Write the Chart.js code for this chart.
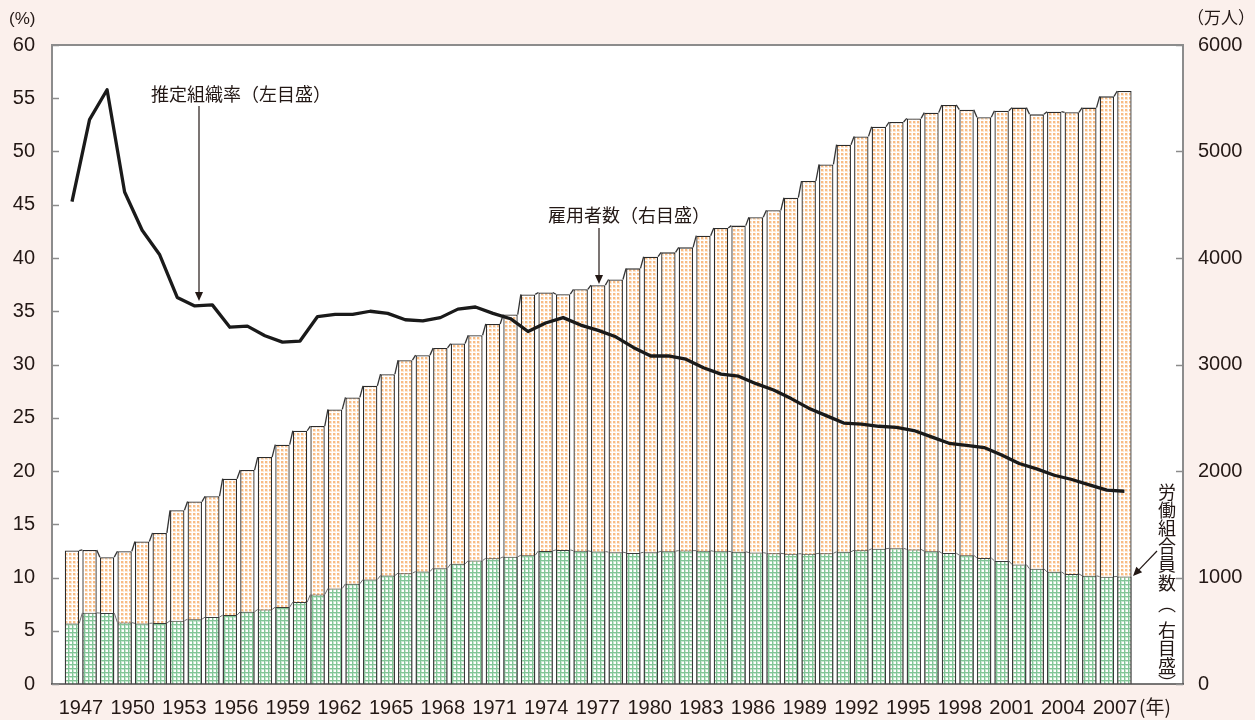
<!DOCTYPE html>
<html><head><meta charset="utf-8">
<script src="https://cdn.jsdelivr.net/npm/chart.js@4.4.1/dist/chart.umd.min.js"></script>
<style>
html,body{margin:0;padding:0;background:#FBF0EC;}
#wrap{position:relative;width:1255px;height:720px;}
canvas{display:block;}
</style>
</head><body>
<div id="wrap"><canvas id="c" width="1255" height="720"></canvas></div>
<script>
// ---- data ----
const years = [1947,1948,1949,1950,1951,1952,1953,1954,1955,1956,1957,1958,1959,1960,1961,1962,1963,1964,1965,1966,1967,1968,1969,1970,1971,1972,1973,1974,1975,1976,1977,1978,1979,1980,1981,1982,1983,1984,1985,1986,1987,1988,1989,1990,1991,1992,1993,1994,1995,1996,1997,1998,1999,2000,2001,2002,2003,2004,2005,2006,2007];
const employees = [1253,1259,1191,1247,1338,1419,1631,1713,1763,1928,2009,2131,2247,2378,2422,2578,2691,2800,2909,3041,3088,3156,3197,3275,3381,3469,3658,3676,3660,3706,3745,3798,3903,4012,4053,4100,4210,4282,4304,4382,4448,4566,4723,4879,5064,5142,5233,5277,5311,5365,5437,5393,5321,5383,5412,5349,5374,5368,5412,5518,5568];
const unionMembers = [569,668,666,577,569,572,594,609,628,647,678,700,722,769,840,897,941,981,1019,1041,1056,1088,1128,1159,1181,1194,1209,1250,1259,1251,1244,1238,1231,1237,1247,1253,1252,1246,1242,1234,1227,1223,1223,1227,1242,1256,1270,1274,1264,1247,1229,1209,1184,1156,1122,1081,1053,1033,1016,1008,1010];
const orgRate = [45.3,53.0,55.8,46.2,42.6,40.3,36.3,35.5,35.6,33.5,33.6,32.7,32.1,32.2,34.5,34.7,34.7,35.0,34.8,34.2,34.1,34.4,35.2,35.4,34.8,34.3,33.1,33.9,34.4,33.7,33.2,32.6,31.6,30.8,30.8,30.5,29.7,29.1,28.9,28.2,27.6,26.8,25.9,25.2,24.5,24.4,24.2,24.1,23.8,23.2,22.6,22.4,22.2,21.5,20.7,20.2,19.6,19.2,18.7,18.2,18.1];
const xTickYears = [1947,1950,1953,1956,1959,1962,1965,1968,1971,1974,1977,1980,1983,1986,1989,1992,1995,1998,2001,2004,2007];
const leftAxisTitle = '(%)';
const rightAxisTitle = '（万人）';
const xAxisUnit = '(年)';
const labelRate = '推定組織率（左目盛）';
const labelEmployees = '雇用者数（右目盛）';
const labelUnion = ['労','働','組','合','員','数','︵','右','目','盛','︶'];

// ---- patterns ----
function makePattern(draw, w, h){
  const c = document.createElement('canvas'); c.width = w; c.height = h;
  const g = c.getContext('2d'); draw(g, w, h);
  return document.getElementById('c').getContext('2d').createPattern(c, 'repeat');
}
const orangeDots = makePattern((g)=>{
  g.fillStyle = '#ffffff'; g.fillRect(0,0,4,4);
  g.fillStyle = '#FDE6D0'; g.fillRect(0,0,4,4); g.fillStyle = '#ffffff'; g.fillRect(0,0,4,1); g.fillRect(0,0,1,4);
  g.fillStyle = '#F8BC84'; g.fillRect(1,1,2,2);
},4,4);
const greenGrid = makePattern((g)=>{
  g.fillStyle = '#ffffff'; g.fillRect(0,0,4,4);
  g.fillStyle = '#C6E6CF'; g.fillRect(0,1,4,1); g.fillRect(1,0,1,4);
  g.fillStyle = '#82C597'; g.fillRect(0,0,4,1); g.fillRect(0,0,1,4);
},4,4);

const NUM_FONT = "'Liberation Sans', Arial, sans-serif";
const CJK_FONT = "'Noto Sans CJK JP', sans-serif";
const TXT = '#231815';

const pts = arr => years.map((y,i)=>({x:y, y:arr[i]}));

function arrow(ctx, x1, y1, x2, y2){
  const a = Math.atan2(y2-y1, x2-x1), L = 9, W = 4;
  ctx.beginPath(); ctx.moveTo(x1,y1);
  ctx.lineTo(x2 - Math.cos(a)*L*0.8, y2 - Math.sin(a)*L*0.8); ctx.stroke();
  ctx.beginPath(); ctx.moveTo(x2,y2);
  ctx.lineTo(x2 - Math.cos(a)*L + Math.sin(a)*W, y2 - Math.sin(a)*L - Math.cos(a)*W);
  ctx.lineTo(x2 - Math.cos(a)*L - Math.sin(a)*W, y2 - Math.sin(a)*L + Math.cos(a)*W);
  ctx.closePath(); ctx.fill();
}

const framePlugin = {
  id: 'frame',
  beforeDatasetsDraw(chart){
    const {ctx, chartArea:a} = chart;
    ctx.save(); ctx.fillStyle = '#ffffff';
    ctx.fillRect(a.left, a.top, a.right-a.left, a.bottom-a.top);
    ctx.restore();
  },
  afterDatasetDraw(chart, args){
    const meta = args.meta;
    if (meta.type !== 'bar') return;
    const ctx = chart.ctx;
    ctx.save();
    ctx.strokeStyle = meta.index === 2 ? '#333333' : '#707070';
    ctx.lineWidth = meta.index === 2 ? 1.3 : 1;
    const els = meta.data;
    for (let i = 0; i < els.length - 1; i++){
      const p = els[i].getProps(['x','y','width'], true);
      const q = els[i+1].getProps(['x','y','width'], true);
      ctx.beginPath();
      ctx.moveTo(p.x + p.width/2, p.y);
      ctx.lineTo(q.x - q.width/2, q.y);
      ctx.stroke();
    }
    ctx.restore();
  },
  afterDraw(chart){
    const {ctx, chartArea:a, scales} = chart;
    ctx.save();
    // frame
    ctx.strokeStyle = '#8c8c8c'; ctx.lineWidth = 2;
    ctx.beginPath();
    ctx.moveTo(a.left, a.bottom); ctx.lineTo(a.left, a.top); ctx.lineTo(a.right, a.top); ctx.lineTo(a.right, a.bottom);
    ctx.stroke();
    ctx.strokeStyle = '#4a4a4a'; ctx.lineWidth = 1.5;
    ctx.beginPath(); ctx.moveTo(a.left-1, a.bottom); ctx.lineTo(a.right+1, a.bottom); ctx.stroke();
    // inward tick marks
    ctx.strokeStyle = '#8c8c8c'; ctx.lineWidth = 1.5;
    scales.yL.ticks.forEach(t=>{
      const y = Math.round(scales.yL.getPixelForValue(t.value)) + 0.5;
      ctx.beginPath(); ctx.moveTo(a.left, y); ctx.lineTo(a.left+7, y); ctx.stroke();
    });
    scales.yR.ticks.forEach(t=>{
      const y = Math.round(scales.yR.getPixelForValue(t.value)) + 0.5;
      ctx.beginPath(); ctx.moveTo(a.right-7, y); ctx.lineTo(a.right, y); ctx.stroke();
    });
    // axis titles
    ctx.fillStyle = TXT; ctx.textBaseline = 'middle';
    ctx.font = '17px ' + NUM_FONT; ctx.textAlign = 'left';
    ctx.fillText(leftAxisTitle, 9, 19);
    ctx.font = '17px ' + CJK_FONT;
    ctx.fillText(rightAxisTitle, 1187, 18);
    ctx.font = '19px ' + CJK_FONT;
    ctx.fillText(xAxisUnit, 1139, 707);
    // annotations
    ctx.font = '18px ' + CJK_FONT;
    ctx.fillText(labelRate, 151, 94);
    ctx.fillText(labelEmployees, 548, 215);
    ctx.textAlign = 'center';
    const ys = [492,510,528,546,564,583,604,630,648,666,683];
    labelUnion.forEach((ch,i)=> ctx.fillText(ch, 1167, ys[i]));
    ctx.strokeStyle = '#231815'; ctx.fillStyle = '#231815'; ctx.lineWidth = 1.2;
    arrow(ctx, 199, 106, 199, 301);
    arrow(ctx, 599, 228, 599, 284);
    arrow(ctx, 1157, 551, 1133, 576);
    ctx.restore();
  }
};

new Chart(document.getElementById('c'), {
  type: 'bar',
  data: {
    datasets: [
      { type:'line', label:'推定組織率', data: pts(orgRate), yAxisID:'yL', xAxisID:'x',
        borderColor:'#1a1a1a', borderWidth:3.3, pointRadius:0, tension:0, order:0, borderJoinStyle:'round' },
      { label:'労働組合員数', data: pts(unionMembers), yAxisID:'yR', xAxisID:'x',
        backgroundColor: greenGrid, borderColor:'#3a3a3a', borderWidth:{left:1.3,right:1.3,top:1,bottom:0},
        borderSkipped:false, grouped:false, categoryPercentage:1, barPercentage:0.82, order:1 },
      { label:'雇用者数', data: pts(employees), yAxisID:'yR', xAxisID:'x',
        backgroundColor: orangeDots, borderColor:'#2b2b2b', borderWidth:{left:1.3,right:1.3,top:1.3,bottom:0},
        borderSkipped:false, grouped:false, categoryPercentage:1, barPercentage:0.82, order:2 }
    ]
  },
  options: {
    responsive:false, animation:false, devicePixelRatio:1,
    layout:{ padding:{ top:45, left:0, right:0, bottom:0 } },
    plugins:{ legend:{display:false}, tooltip:{enabled:false} },
    scales:{
      x:{ type:'linear', position:'bottom', min:1945.86, max:2010.34, offset:false, display:false },
      xLabels:{ type:'linear', position:'bottom', min:1945.32, max:2010.95, offset:false,
        grid:{display:false, drawTicks:false}, border:{display:false},
        afterBuildTicks: s => { s.ticks = xTickYears.map(v=>({value:v})); },
        afterFit: s => { s.height = 36; },
        ticks:{ autoSkip:false, maxRotation:0, padding:12, color:TXT,
          font:{size:20, family:NUM_FONT}, callback: v => String(v) } },
      yL:{ position:'left', min:0, max:60,
        grid:{display:false, drawTicks:false}, border:{display:false},
        afterFit: s => { s.width = 52; },
        ticks:{ stepSize:5, padding:17, color:TXT, font:{size:20, family:NUM_FONT} } },
      yR:{ position:'right', min:0, max:6000,
        grid:{display:false, drawTicks:false}, border:{display:false},
        afterFit: s => { s.width = 72; },
        ticks:{ stepSize:1000, padding:15, color:TXT, font:{size:20, family:NUM_FONT}, callback: v => String(v) } }
    }
  },
  plugins:[framePlugin]
});
</script>
</body></html>
